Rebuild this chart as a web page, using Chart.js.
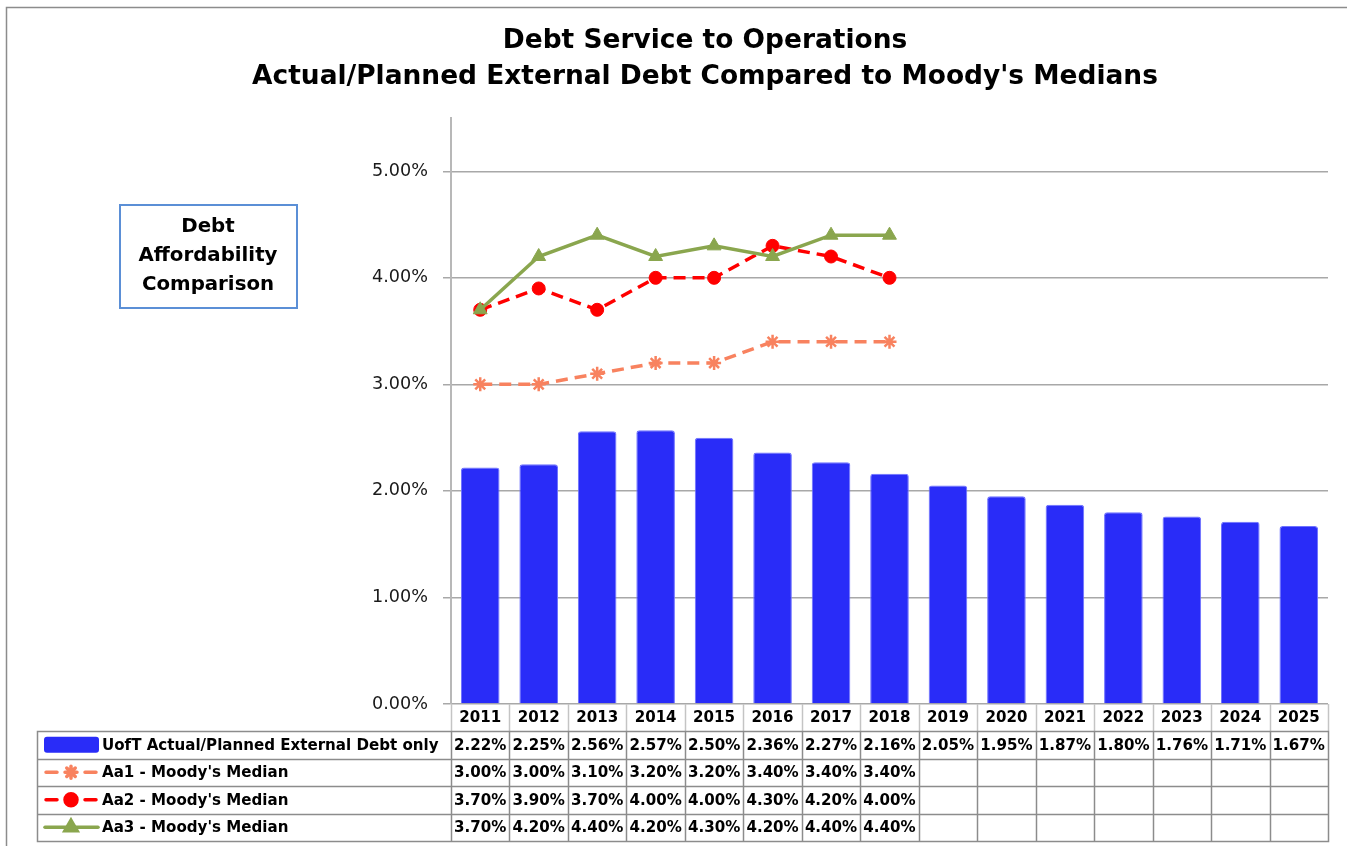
<!DOCTYPE html>
<html>
<head>
<meta charset="utf-8">
<script src="https://cdn.jsdelivr.net/npm/chart.js@4"></script>
<style>
html,body{margin:0;padding:0;background:#fff;}
canvas{display:block;}
</style>
</head>
<body>
<canvas id="c" width="1347" height="846"></canvas>
<script>
// ---- data ----
const years = ['2011','2012','2013','2014','2015','2016','2017','2018','2019','2020','2021','2022','2023','2024','2025'];
const uoftDebt = [2.22,2.25,2.56,2.57,2.50,2.36,2.27,2.16,2.05,1.95,1.87,1.80,1.76,1.71,1.67];
const aa1Median = [3.00,3.00,3.10,3.20,3.20,3.40,3.40,3.40,null,null,null,null,null,null,null];
const aa2Median = [3.70,3.90,3.70,4.00,4.00,4.30,4.20,4.00,null,null,null,null,null,null,null];
const aa3Median = [3.70,4.20,4.40,4.20,4.30,4.20,4.40,4.40,null,null,null,null,null,null,null];
const yTickValues = [0,1,2,3,4,5];
const seriesNames = ['UofT Actual/Planned External Debt only','Aa1 - Moody\'s Median','Aa2 - Moody\'s Median','Aa3 - Moody\'s Median'];
const titleLines = ['Debt Service to Operations','Actual/Planned External Debt Compared to Moody\'s Medians'];
const boxLines = ['Debt','Affordability','Comparison'];

// ---- styles ----
const FAM = '"DejaVu Sans", sans-serif';
const BLUE = '#292cf8', CORAL = '#f8825f', RED = '#ff0000', GREEN = '#8aa64e';
const mctx = document.createElement('canvas').getContext('2d');
function fit(text, weight, width){
  mctx.font = weight + ' 100px ' + FAM;
  return 100 * width / mctx.measureText(text).width;
}
const titleSize = fit(titleLines[1], 'bold', 906);
const boxSize = fit('Affordability', 'bold', 139);
const tableSize = fit('2011', 'bold', 42);
const labelSize = Math.min(tableSize, fit(seriesNames[0], 'bold', 344));
const tickSize = fit('5.00%', 'normal', 56);

const fmt = v => v.toFixed(2) + '%';

const decorPlugin = {
  id: 'decor',
  beforeDraw(chart){
    const ctx = chart.ctx;
    ctx.save();
    ctx.fillStyle = '#fff';
    ctx.fillRect(0,0,chart.width,chart.height);
    ctx.strokeStyle = '#8c8c8c';
    ctx.lineWidth = 1.5;
    ctx.strokeRect(6.5, 7.5, 1400, 900);
    ctx.restore();
  },
  afterDraw(chart){
    const ctx = chart.ctx;
    const xs = chart.scales.x;
    const ca = chart.chartArea;
    const n = years.length;
    const cw = (ca.right - ca.left) / n;
    ctx.save();
    // title
    ctx.fillStyle = '#000';
    ctx.textAlign = 'center';
    ctx.textBaseline = 'middle';
    ctx.font = 'bold ' + titleSize.toFixed(2) + 'px ' + FAM;
    ctx.fillText(titleLines[0], 705, 41);
    ctx.fillText(titleLines[1], 705, 77);
    // text box
    ctx.strokeStyle = '#5b8fd6';
    ctx.lineWidth = 2;
    ctx.strokeRect(120, 205, 177, 103);
    ctx.font = 'bold ' + boxSize.toFixed(2) + 'px ' + FAM;
    boxLines.forEach((t,i)=>ctx.fillText(t, 208, 227 + i*29));

    // data table
    const top = 704, hdrB = 731, rowH = 27.5, tl = 37;
    const rows = 4;
    const bottom = hdrB + rows*rowH;
    ctx.strokeStyle = '#c4c4c4';
    ctx.lineWidth = 1.5;
    for (let i=0;i<=n;i++){
      const x = Math.round(ca.left + i*cw) + 0.5;
      ctx.beginPath(); ctx.moveTo(x, top); ctx.lineTo(x, hdrB); ctx.stroke();
    }
    ctx.font = 'bold ' + tableSize.toFixed(2) + 'px ' + FAM;
    ctx.fillStyle = '#000';
    years.forEach((y,i)=>ctx.fillText(y, xs.getPixelForValue(i), (top+hdrB)/2 + 1));
    ctx.strokeStyle = '#8c8c8c';
    ctx.lineWidth = 1.5;
    ctx.strokeRect(tl + 0.5, hdrB + 0.5, ca.right - tl, rows*rowH);
    for (let r=1;r<rows;r++){
      const y = Math.round(hdrB + r*rowH) + 0.5;
      ctx.beginPath(); ctx.moveTo(tl, y); ctx.lineTo(ca.right, y); ctx.stroke();
    }
    for (let i=0;i<n;i++){
      const x = Math.round(ca.left + i*cw) + 0.5;
      ctx.beginPath(); ctx.moveTo(x, hdrB); ctx.lineTo(x, bottom); ctx.stroke();
    }
    const allSeries = [uoftDebt, aa1Median, aa2Median, aa3Median];
    allSeries.forEach((arr, r)=>{
      const cy = hdrB + r*rowH + rowH/2 + 1;
      arr.forEach((v,i)=>{
        if (v === null) return;
        ctx.fillText(fmt(v), xs.getPixelForValue(i), cy);
      });
    });
    ctx.textAlign = 'left';
    ctx.font = 'bold ' + labelSize.toFixed(2) + 'px ' + FAM;
    seriesNames.forEach((name, r)=>{
      const cy = hdrB + r*rowH + rowH/2;
      ctx.fillStyle = '#000';
      ctx.fillText(name, 102, cy + 1);
    });
    let cy = hdrB + rowH/2;
    ctx.fillStyle = BLUE;
    ctx.beginPath(); ctx.roundRect(44, cy-8, 55, 16, 3); ctx.fill();
    const keyLine = (r, color, width, dashed, style, radius) => {
      const y = hdrB + r*rowH + rowH/2;
      ctx.strokeStyle = color; ctx.fillStyle = color; ctx.lineWidth = width; ctx.lineCap = 'round';
      ctx.beginPath();
      if (dashed){ ctx.moveTo(46,y); ctx.lineTo(57,y); ctx.moveTo(85,y); ctx.lineTo(96,y); }
      else { ctx.moveTo(45,y); ctx.lineTo(98,y); }
      ctx.stroke();
      Chart.helpers.drawPoint(ctx, {pointStyle: style, radius: radius, rotation: 0, borderWidth: style==='star'?2.5:1}, 71, y);
      if (style !== 'star') ctx.fill();
    };
    keyLine(1, CORAL, 3.5, true, 'star', 6);
    keyLine(2, RED, 3.5, true, 'circle', 6);
    keyLine(3, GREEN, 3.5, false, 'triangle', 7);
    ctx.restore();
  }
};

new Chart(document.getElementById('c'), {
  data: {
    labels: years,
    datasets: [
      { type:'line', label: seriesNames[3], data: aa3Median, order: 1,
        borderColor: GREEN, backgroundColor: GREEN, borderWidth: 3.5,
        pointStyle: 'triangle', pointRadius: 8, pointBorderWidth: 1, pointBackgroundColor: GREEN, pointBorderColor: GREEN,
        spanGaps: false, tension: 0 },
      { type:'line', label: seriesNames[2], data: aa2Median, order: 2,
        borderColor: RED, backgroundColor: RED, borderWidth: 3.5, borderDash: [12,7],
        pointStyle: 'circle', pointRadius: 6.5, pointBorderWidth: 1, pointBackgroundColor: RED, pointBorderColor: RED,
        tension: 0 },
      { type:'line', label: seriesNames[1], data: aa1Median, order: 3,
        borderColor: CORAL, backgroundColor: CORAL, borderWidth: 3.5, borderDash: [12,7],
        pointStyle: 'star', pointRadius: 7, pointBorderWidth: 2.5, pointBorderColor: CORAL,
        tension: 0 },
      { type:'bar', label: seriesNames[0], data: uoftDebt, order: 4,
        backgroundColor: BLUE, borderColor: '#6e72ff', borderWidth: 1, borderRadius: 3, borderSkipped: 'bottom',
        barPercentage: 0.66, categoryPercentage: 1 }
    ]
  },
  options: {
    responsive: false,
    animation: false,
    layout: { padding: { left: 351, right: 19, top: 118, bottom: 142 } },
    plugins: { legend: { display: false }, title: { display: false }, tooltip: { enabled: false } },
    scales: {
      x: {
        type: 'category',
        offset: true,
        grid: { display: false },
        border: { display: false },
        ticks: { display: false },
        afterFit(s){ s.height = 0; }
      },
      y: {
        min: 0, max: 5.5,
        afterBuildTicks(s){ s.ticks = yTickValues.map(v => ({ value: v })); },
        afterFit(s){ s.width = 100; },
        ticks: {
          stepSize: 1,
          padding: 15,
          color: '#1a1a1a',
          font: { family: FAM, size: tickSize },
          callback: v => fmt(v)
        },
        grid: { color: '#a8a8a8', lineWidth: 1.5, tickLength: 8, drawTicks: true },
        border: { display: true, color: '#b8b8b8', width: 2 }
      }
    }
  },
  plugins: [decorPlugin]
});
</script>
</body>
</html>
